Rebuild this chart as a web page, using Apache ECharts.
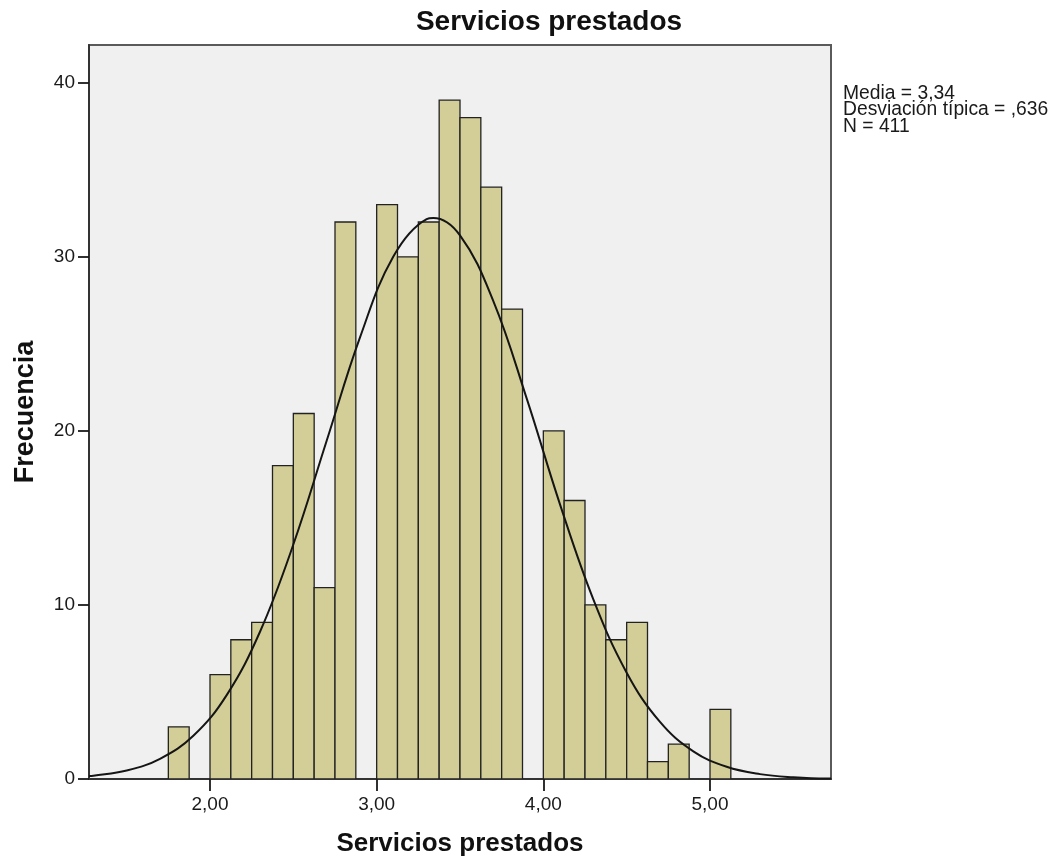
<!DOCTYPE html>
<html>
<head>
<meta charset="utf-8">
<script src="https://cdn.jsdelivr.net/npm/echarts@6/dist/echarts.min.js"></script>
<style>
  html, body { margin: 0; padding: 0; background: #ffffff; }
  #chart { width: 1056px; height: 865px; }
</style>
</head>
<body>
<div id="chart"></div>
<script>
// ---- Data ----
const title = 'Servicios prestados';
const xAxisTitle = 'Servicios prestados';
const yAxisTitle = 'Frecuencia';
const statsLines = ['Media = 3,34', 'Desviación típica = ,636', 'N = 411'];

// Histogram bins (left edge, right edge) and counts
const binStart = [1.75, 1.875, 2.0, 2.125, 2.25, 2.375, 2.5, 2.625, 2.75, 2.875, 3.0, 3.125, 3.25, 3.375, 3.5, 3.625, 3.75, 3.875, 4.0, 4.125, 4.25, 4.375, 4.5, 4.625, 4.75, 4.875, 5.0];
const binEnd   = [1.875, 2.0, 2.125, 2.25, 2.375, 2.5, 2.625, 2.75, 2.875, 3.0, 3.125, 3.25, 3.375, 3.5, 3.625, 3.75, 3.875, 4.0, 4.125, 4.25, 4.375, 4.5, 4.625, 4.75, 4.875, 5.0, 5.125];
const counts   = [3, 0, 6, 8, 9, 18, 21, 11, 32, 0, 33, 30, 32, 39, 38, 34, 27, 0, 20, 16, 10, 8, 9, 1, 2, 0, 4];

// Normal curve, points
const curveX = [1.274, 1.3, 1.5, 1.7, 1.9, 2.1, 2.3, 2.5, 2.7, 2.9, 3.1, 3.3, 3.34, 3.5, 3.7, 3.9, 4.1, 4.3, 4.5, 4.7, 4.9, 5.1, 5.3, 5.5, 5.7, 5.726];
const curveY = [0.17, 0.19, 0.49, 1.16, 2.48, 4.82, 8.46, 13.47, 19.43, 25.37, 30.02, 32.17, 32.23, 31.23, 27.46, 21.87, 15.78, 10.32, 6.11, 3.28, 1.59, 0.70, 0.28, 0.10, 0.03, 0.03];

// Axis tick labels
const xTicks = [2, 3, 4, 5];
const yTicks = [0, 10, 20, 30, 40];

const FONT = '"Liberation Sans", Arial, Helvetica, sans-serif';

const chart = echarts.init(document.getElementById('chart'), null, { renderer: 'canvas' });

const histData = binStart.map((s, i) => [s, binEnd[i], counts[i]]);
const curveData = curveX.map((x, i) => [x, curveY[i]]);

const option = {
  backgroundColor: '#ffffff',
  animation: false,
  grid: {
    left: 89, right: 225, top: 45, bottom: 86,
    show: true,
    backgroundColor: '#f0f0f0',
    borderColor: '#5a5a5a',
    borderWidth: 2
  },
  xAxis: {
    type: 'value',
    min: 1.274, max: 5.726,
    name: xAxisTitle,
    nameLocation: 'middle',
    nameGap: 52,
    nameTextStyle: { fontFamily: FONT, fontSize: 26, fontWeight: 'bold', color: '#111' },
    splitLine: { show: false },
    axisLine: { show: true, onZero: false, lineStyle: { color: '#333', width: 2 } },
    axisTick: { show: true, length: 12, customValues: xTicks, lineStyle: { color: '#1a1a1a', width: 1.8 } },
    axisLabel: {
      customValues: xTicks,
      margin: 16,
      fontFamily: FONT, fontSize: 19, color: '#1a1a1a',
      formatter: v => v.toFixed(2).replace('.', ',')
    }
  },
  yAxis: {
    type: 'value',
    min: 0, max: 42.17,
    name: yAxisTitle,
    nameLocation: 'middle',
    nameGap: 50,
    nameTextStyle: { fontFamily: FONT, fontSize: 27, fontWeight: 'bold', color: '#111' },
    splitLine: { show: false },
    axisLine: { show: true, lineStyle: { color: '#333', width: 2 } },
    axisTick: { show: true, length: 11, customValues: yTicks, lineStyle: { color: '#1a1a1a', width: 1.8 } },
    axisLabel: {
      customValues: yTicks,
      margin: 14,
      fontFamily: FONT, fontSize: 19, color: '#1a1a1a'
    }
  },
  series: [
    {
      type: 'custom',
      data: histData,
      encode: { x: [0, 1], y: 2 },
      clip: true,
      renderItem: function (params, api) {
        const c = api.value(2);
        if (!c) return null;
        const p0 = api.coord([api.value(0), c]);
        const p1 = api.coord([api.value(1), 0]);
        return {
          type: 'rect',
          shape: { x: p0[0], y: p0[1], width: p1[0] - p0[0], height: p1[1] - p0[1] },
          style: { fill: '#d3ce97', stroke: '#222222', lineWidth: 1.3 }
        };
      }
    },
    {
      type: 'line',
      data: curveData,
      smooth: 0.4,
      symbol: 'none',
      clip: true,
      lineStyle: { color: '#151515', width: 2 },
      z: 5
    }
  ],
  graphic: [
    {
      type: 'text',
      x: 549, y: 22,
      style: {
        text: title,
        font: 'bold 28px ' + FONT,
        fill: '#111',
        textAlign: 'center',
        textVerticalAlign: 'middle'
      }
    },
    {
      type: 'text',
      x: 843, y: 85,
      style: {
        text: statsLines.join('\n'),
        font: '19.3px ' + FONT,
        lineHeight: 16.5,
        fill: '#1a1a1a',
        textAlign: 'left',
        textVerticalAlign: 'top'
      }
    }
  ]
};

chart.setOption(option);
</script>
</body>
</html>
